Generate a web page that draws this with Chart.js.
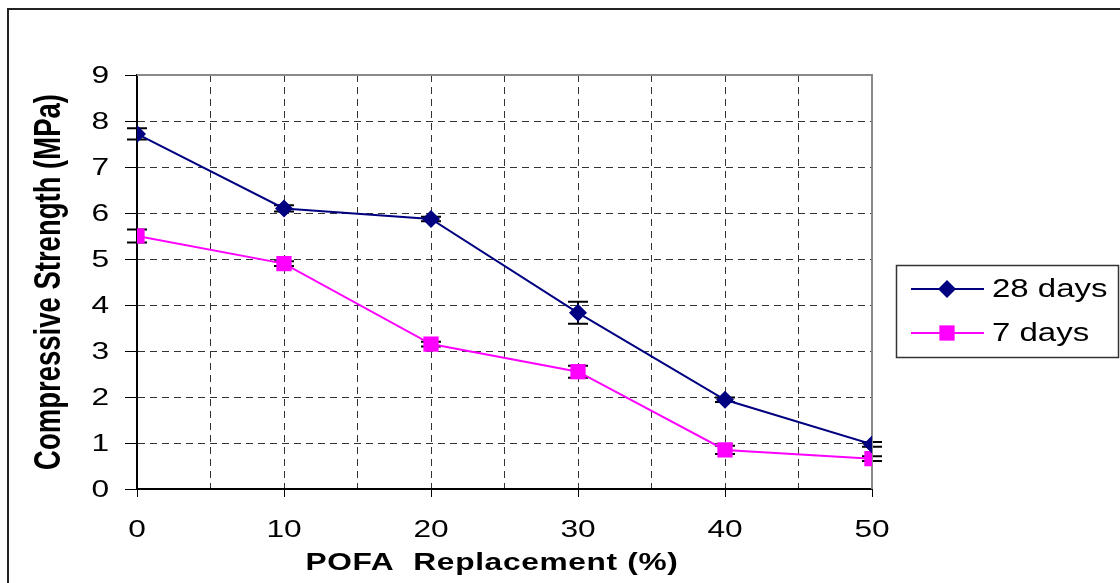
<!DOCTYPE html>
<html>
<head>
<meta charset="utf-8">
<script src="https://cdn.jsdelivr.net/npm/chart.js@4.4.1/dist/chart.umd.min.js"></script>
<style>
	html, body { margin: 0; padding: 0; background: #fff; overflow: hidden; }
	#frame { position: absolute; left: 7px; top: 8px; width: 1200px; height: 700px; border: 2px solid #222; }
	#chart { position: absolute; left: 0; top: 0; }
</style>
</head>
<body>
<div id="frame"></div>
<canvas id="chart" width="1120" height="583"></canvas>
<script>
// POFA replacement (%) on x, compressive strength (MPa) on y
const replacement = [0, 10, 20, 30, 40, 50];
const strength28 = [7.72, 6.1, 5.87, 3.83, 1.94, 0.97];
const err28 = [0.12, 0.07, 0.05, 0.24, 0.05, 0.05];
const strength7 = [5.5, 4.9, 3.15, 2.55, 0.85, 0.66];
const err7 = [0.14, 0.05, 0.05, 0.13, 0.09, 0.05];
const xTickLabels = [0, 10, 20, 30, 40, 50];
const yTickLabels = [0, 1, 2, 3, 4, 5, 6, 7, 8, 9];
const seriesNames = ['28 days', '7 days'];
const xTitle = 'POFA  Replacement (%)';
const yTitle = 'Compressive Strength (MPa)';

const FONT = '"Liberation Sans", Arial, sans-serif';
const STRETCH = 1.32; // the source picture is widened, text looks wide

const toPoints = (xs, ys) => xs.map((x, i) => ({ x: x, y: ys[i] }));

// text widened horizontally around its anchor
function wideText(ctx, text, x, y, align, sx) {
	ctx.save();
	ctx.translate(x, y);
	ctx.scale(sx, 1);
	ctx.textAlign = align;
	ctx.fillText(text, 0, 0);
	ctx.restore();
}

// error bars, drawn under the markers
const errorBars = {
	id: 'errorBars',
	beforeDatasetsDraw: function(chart) {
		const { ctx, scales: { x, y } } = chart;
		ctx.save();
		ctx.strokeStyle = '#000';
		ctx.lineWidth = 2;
		chart.data.datasets.forEach(ds => {
			ds.errors.forEach((e, i) => {
				const px = x.getPixelForValue(ds.data[i].x);
				const top = y.getPixelForValue(ds.data[i].y + e);
				const bot = y.getPixelForValue(ds.data[i].y - e);
				ctx.beginPath();
				ctx.moveTo(px, top); ctx.lineTo(px, bot);
				ctx.moveTo(px - 10, top); ctx.lineTo(px + 10, top);
				ctx.moveTo(px - 10, bot); ctx.lineTo(px + 10, bot);
				ctx.stroke();
			});
		});
		ctx.restore();
	}
};

// gray top/right border of plot area
const plotFrame = {
	id: 'plotFrame',
	beforeDatasetsDraw: function(chart) {
		const { ctx, chartArea: a } = chart;
		ctx.save();
		ctx.strokeStyle = '#8a8a8a';
		ctx.lineWidth = 2;
		ctx.beginPath();
		ctx.moveTo(a.left, a.top); ctx.lineTo(a.right, a.top); ctx.lineTo(a.right, a.bottom);
		ctx.stroke();
		ctx.restore();
	}
};

// tick labels and axis titles, widened like the source
const axisText = {
	id: 'axisText',
	afterDraw: function(chart) {
		const { ctx, scales: { x, y } } = chart;
		ctx.save();
		ctx.fillStyle = '#000';
		ctx.textBaseline = 'alphabetic';
		ctx.font = '24px ' + FONT;
		xTickLabels.forEach(v => {
			wideText(ctx, String(v), x.getPixelForValue(v), 537, 'center', STRETCH);
		});
		yTickLabels.forEach(v => {
			wideText(ctx, String(v), 109, y.getPixelForValue(v) + 8, 'right', STRETCH);
		});

		ctx.font = 'bold 24px ' + FONT;
		ctx.letterSpacing = '0.5px';
		wideText(ctx, xTitle, 492, 570, 'center', STRETCH);
		ctx.letterSpacing = '0px';

		// y title: rotated, so the widening goes across the text
		ctx.font = 'bold 27.5px ' + FONT;
		ctx.translate(50, 282);
		ctx.rotate(-Math.PI / 2);
		ctx.scale(1, STRETCH);
		ctx.textAlign = 'center';
		ctx.textBaseline = 'middle';
		ctx.fillText(yTitle, 0, 0);
		ctx.restore();
	}
};

// boxed legend on the right
const sideLegend = {
	id: 'sideLegend',
	afterDraw: function(chart) {
		const ctx = chart.ctx;
		ctx.save();
		ctx.strokeStyle = '#333';
		ctx.lineWidth = 1.5;
		ctx.strokeRect(896.5, 265.5, 222, 92);
		const rows = [289, 333];
		chart.data.datasets.forEach((ds, i) => {
			const ly = rows[i];
			ctx.strokeStyle = ds.borderColor;
			ctx.lineWidth = 2;
			ctx.beginPath();
			ctx.moveTo(911, ly); ctx.lineTo(984, ly);
			ctx.stroke();
			ctx.fillStyle = ds.backgroundColor;
			Chart.helpers.drawPoint(ctx, {
				pointStyle: ds.pointStyle, radius: ds.pointRadius, rotation: 0, borderWidth: 0
			}, 947, ly);
			ctx.fillStyle = '#000';
			ctx.font = '25px ' + FONT;
			ctx.textBaseline = 'alphabetic';
			wideText(ctx, seriesNames[i], 992, ly + 8, 'left', STRETCH);
		});
		ctx.restore();
	}
};

new Chart(document.getElementById('chart'), {
	type: 'line',
	data: {
		datasets: [
			{
				label: seriesNames[0],
				data: toPoints(replacement, strength28),
				errors: err28,
				borderColor: '#000080',
				backgroundColor: '#000080',
				borderWidth: 2,
				pointStyle: 'rectRot',
				pointRadius: 9,
				pointBorderWidth: 0,
				tension: 0
			},
			{
				label: seriesNames[1],
				data: toPoints(replacement, strength7),
				errors: err7,
				borderColor: '#ff00ff',
				backgroundColor: '#ff00ff',
				borderWidth: 2,
				pointStyle: 'rect',
				pointRadius: 10.8,
				pointBorderWidth: 0,
				tension: 0
			}
		]
	},
	options: {
		responsive: false,
		animation: false,
		layout: { padding: { left: 0, top: 75, right: 248, bottom: 0 } },
		plugins: {
			legend: { display: false },
			tooltip: { enabled: false }
		},
		scales: {
			x: {
				type: 'linear',
				min: 0, max: 50,
				afterFit: s => { s.height = 94; },
				border: { display: true, color: '#000', width: 2, dash: [7, 5] },
				grid: {
					color: '#333', lineWidth: 1, tickLength: 8,
					tickColor: c => (c.tick && c.tick.value % 10 === 0) ? '#000' : 'rgba(0,0,0,0)'
				},
				ticks: { stepSize: 5, autoSkip: false, display: false }
			},
			y: {
				min: 0, max: 9,
				afterFit: s => { s.width = 137; },
				border: { display: true, color: '#000', width: 2, dash: [7, 5] },
				grid: { color: '#333', lineWidth: 1, tickLength: 12, tickColor: '#000' },
				ticks: { stepSize: 1, display: false }
			}
		}
	},
	plugins: [errorBars, plotFrame, axisText, sideLegend]
});
</script>
</body>
</html>
